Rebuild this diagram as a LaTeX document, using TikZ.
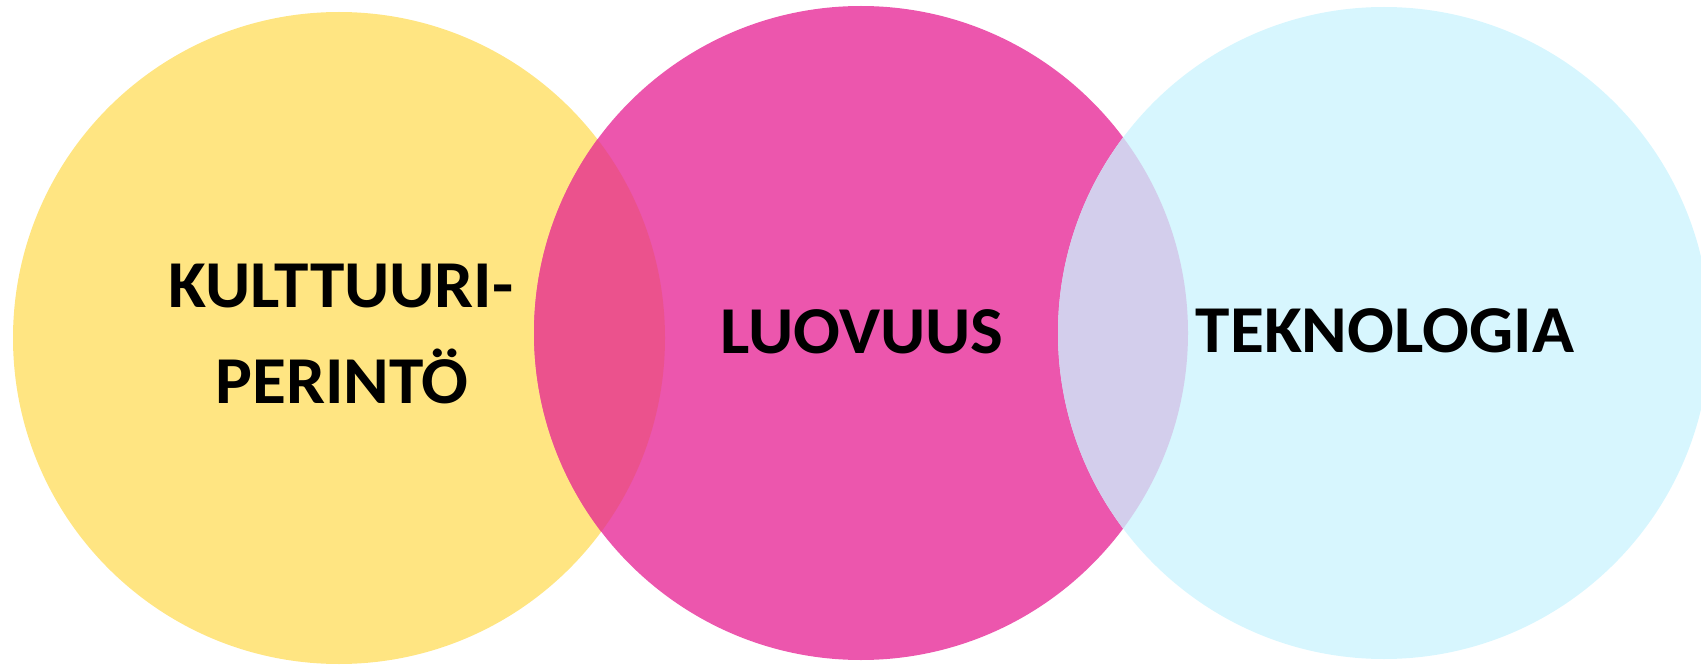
\documentclass[tikz,border=0pt]{standalone}
\usepackage{fontspec}
\setmainfont{Carlito}
\definecolor{cyel}{RGB}{255,229,130}
\definecolor{cmag}{RGB}{236,86,173}
\definecolor{ccya}{RGB}{215,246,254}
\definecolor{covA}{RGB}{235,82,141}
\definecolor{covB}{RGB}{211,206,236}
\tikzset{lbl/.style={font=\bfseries\fontsize{67}{96}\selectfont, text=black, anchor=base, inner sep=0pt, xscale=1.035}}
\begin{document}
\begin{tikzpicture}[x=1pt,y=-1pt]
\useasboundingbox (0,0) rectangle (1701,666);
\coordinate (cy) at (339,338);
\coordinate (cm) at (861,333);
\coordinate (cc) at (1384,333);
\fill[cyel] (cy) circle (326);
\fill[cmag] (cm) circle (327);
\fill[ccya] (cc) circle (326);
\begin{scope}
\clip (cy) circle (326);
\fill[covA] (cm) circle (327);
\end{scope}
\begin{scope}
\clip (cm) circle (327);
\fill[covB] (cc) circle (326);
\end{scope}
\node[lbl] (k1) at (341,307) {KULTTUURI-};
\node[lbl] (k2) at (342,403) {PERINTÖ};
\node[lbl] (l) at (862,353) {LUOVUUS};
\node[lbl] (t) at (1385,352) {TEKNOLOGIA};
\end{tikzpicture}
\end{document}
